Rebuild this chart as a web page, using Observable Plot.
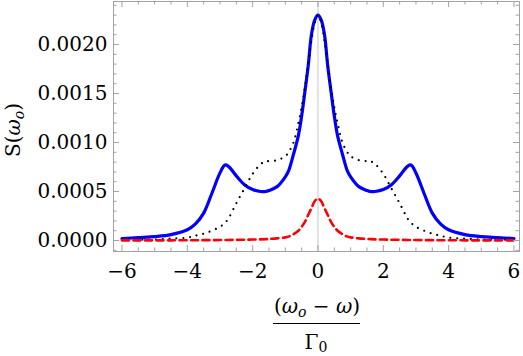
<!DOCTYPE html>
<html>
<head>
<meta charset="utf-8">
<script src="https://cdn.jsdelivr.net/npm/d3@7"></script>
<script src="https://cdn.jsdelivr.net/npm/@observablehq/plot@0.6"></script>
<style>
  html, body { margin: 0; padding: 0; background: #fff; }
  #chart svg { display: block; }
</style>
</head>
<body>
<div id="chart"></div>
<script>
// detuning (ω_o − ω)/Γ0
const xs = [-6, -5.5, -5, -4.5, -4, -3.75, -3.5, -3.25, -3, -2.85, -2.75, -2.5, -2.25, -2, -1.75, -1.6, -1.5, -1.25, -1, -0.9, -0.75, -0.6, -0.5, -0.4, -0.3, -0.2, -0.1,
  0,
  0.1, 0.2, 0.3, 0.4, 0.5, 0.6, 0.75, 0.9, 1, 1.25, 1.5, 1.6, 1.75, 2, 2.25, 2.5, 2.75, 2.85, 3, 3.25, 3.5, 3.75, 4, 4.5, 5, 5.5, 6];

// solid blue curve
const blueS = [0.00002, 0.00003, 0.00004, 0.00006, 0.00011, 0.00017, 0.00028, 0.00048, 0.00069, 0.00077, 0.00076, 0.00066, 0.00057, 0.00052, 0.00050, 0.00050, 0.00051, 0.00055, 0.00065, 0.00071, 0.00088, 0.00107, 0.00127, 0.00152, 0.00178, 0.00210, 0.00225,
  0.00230,
  0.00225, 0.00210, 0.00178, 0.00152, 0.00127, 0.00107, 0.00088, 0.00071, 0.00065, 0.00055, 0.00051, 0.00050, 0.00050, 0.00052, 0.00057, 0.00066, 0.00076, 0.00077, 0.00069, 0.00048, 0.00028, 0.00017, 0.00011, 0.00006, 0.00004, 0.00003, 0.00002];

// dotted black curve
const dottedS = [0.00001, 0.00001, 0.00001, 0.00002, 0.00003, 0.00005, 0.00007, 0.00010, 0.00014, 0.00018, 0.00022, 0.00038, 0.00053, 0.00068, 0.00078, 0.00081, 0.00081, 0.00082, 0.00086, 0.00090, 0.00100, 0.00120, 0.00136, 0.00156, 0.00180, 0.00204, 0.00222,
  0.00230,
  0.00222, 0.00204, 0.00180, 0.00156, 0.00136, 0.00120, 0.00100, 0.00090, 0.00086, 0.00082, 0.00081, 0.00081, 0.00078, 0.00068, 0.00053, 0.00038, 0.00022, 0.00018, 0.00014, 0.00010, 0.00007, 0.00005, 0.00003, 0.00002, 0.00001, 0.00001, 0.00001];

// dashed red curve
const redS = [0.000002, 0.000002, 0.000002, 0.000002, 0.000003, 0.000003, 0.000004, 0.000004, 0.000005, 0.000005, 0.000006, 0.000007, 0.000008, 0.00001, 0.000012, 0.000014, 0.000016, 0.000022, 0.000032, 0.00004, 0.000065, 0.0001, 0.00014, 0.00019, 0.00026, 0.00033, 0.0004,
  0.00043,
  0.0004, 0.00033, 0.00026, 0.00019, 0.00014, 0.0001, 0.000065, 0.00004, 0.000032, 0.000022, 0.000016, 0.000014, 0.000012, 0.00001, 0.000008, 0.000007, 0.000006, 0.000005, 0.000005, 0.000004, 0.000004, 0.000003, 0.000003, 0.000002, 0.000002, 0.000002, 0.000002];

// tick values
const xMajor = [-6, -4, -2, 0, 2, 4, 6];
const xMinor = [-5.5, -5, -4.5, -3.5, -3, -2.5, -1.5, -1, -0.5, 0.5, 1, 1.5, 2.5, 3, 3.5, 4.5, 5, 5.5];
const yMajor = [0, 0.0005, 0.0010, 0.0015, 0.0020];
const yMinor = [-0.0001, 0.0001, 0.0002, 0.0003, 0.0004, 0.0006, 0.0007, 0.0008, 0.0009, 0.0011, 0.0012, 0.0013, 0.0014, 0.0016, 0.0017, 0.0018, 0.0019, 0.0021, 0.0022, 0.0023, 0.0024];

const blueData = xs.map((x, i) => ({x, y: blueS[i]}));
const dottedData = xs.map((x, i) => ({x, y: dottedS[i]}));
const redData = xs.map((x, i) => ({x, y: redS[i]}));

const W = 523, H = 356;
const mL = 113, mR = 4, mT = 1, mB = 105;
const fw = W - mL - mR, fh = H - mT - mB;
const frameCol = "#a2a2a2";
const serif = "DejaVu Serif";

const plot = Plot.plot({
  width: W, height: H,
  marginLeft: mL, marginRight: mR, marginTop: mT, marginBottom: mB,
  style: {fontFamily: serif, fontSize: "20px", color: "black", background: "white"},
  x: {domain: [-6.26, 6.17]},
  y: {domain: [-0.000112, 0.002439]},
  marks: [
    Plot.ruleX([0], {stroke: "#c8c8c8", strokeWidth: 1}),
    Plot.line(blueData, {x: "x", y: "y", stroke: "#0000ff", strokeWidth: 3.2, curve: "catmull-rom"}),
    Plot.line(dottedData, {x: "x", y: "y", stroke: "black", strokeWidth: 2.2, strokeDasharray: "0 6.8", strokeLinecap: "round", curve: "catmull-rom"}),
    Plot.line(redData, {x: "x", y: "y", stroke: "#ff0000", strokeWidth: 2.6, strokeDasharray: "7 4.5", curve: "catmull-rom"}),
    // ticks, inward on all four sides
    Plot.tickX(xMajor, {x: d => d, stroke: frameCol, insetTop: fh - 6}),
    Plot.tickX(xMinor, {x: d => d, stroke: frameCol, insetTop: fh - 3.5}),
    Plot.tickX(xMajor, {x: d => d, stroke: frameCol, insetBottom: fh - 6}),
    Plot.tickX(xMinor, {x: d => d, stroke: frameCol, insetBottom: fh - 3.5}),
    Plot.tickY(yMajor, {y: d => d, stroke: frameCol, insetRight: fw - 6}),
    Plot.tickY(yMinor, {y: d => d, stroke: frameCol, insetRight: fw - 3.5}),
    Plot.tickY(yMajor, {y: d => d, stroke: frameCol, insetLeft: fw - 6}),
    Plot.tickY(yMinor, {y: d => d, stroke: frameCol, insetLeft: fw - 3.5}),
    Plot.frame({stroke: frameCol}),
    Plot.axisX({ticks: xMajor, tickSize: 0, tickPadding: 12, fontSize: 20, label: null, fill: "black", fontFamily: serif}),
    Plot.axisY({ticks: yMajor, tickSize: 0, tickPadding: 6, fontSize: 20, label: null, fill: "black", fontFamily: serif, tickFormat: d3.format(".4f")})
  ]
});

const svg = d3.select(plot);
// y-axis label S(ω_o)
const yl = svg.append("text")
  .attr("transform", "translate(20,130) rotate(-90)")
  .attr("text-anchor", "middle")
  .attr("font-family", serif).attr("font-size", 20).attr("fill", "black");
yl.append("tspan").text("S(");
yl.append("tspan").attr("font-style", "italic").text("ω");
yl.append("tspan").attr("font-style", "italic").attr("font-size", 14).attr("dy", 4).text("o");
yl.append("tspan").attr("dy", -4).text(")");

// x-axis label: (ω_o − ω) / Γ0
const num = svg.append("text")
  .attr("x", 317).attr("y", 313)
  .attr("text-anchor", "middle")
  .attr("font-family", serif).attr("font-size", 20).attr("fill", "black");
num.append("tspan").text("(");
num.append("tspan").attr("font-style", "italic").text("ω");
num.append("tspan").attr("font-style", "italic").attr("font-size", 14).attr("dy", 4).text("o");
num.append("tspan").attr("dy", -4).text(" − ");
num.append("tspan").attr("font-style", "italic").text("ω");
num.append("tspan").text(")");

svg.append("line")
  .attr("x1", 273).attr("x2", 360).attr("y1", 323.5).attr("y2", 323.5)
  .attr("stroke", "black").attr("stroke-width", 1);

const den = svg.append("text")
  .attr("x", 316).attr("y", 349)
  .attr("text-anchor", "middle")
  .attr("font-family", serif).attr("font-size", 20).attr("fill", "black");
den.append("tspan").text("Γ");
den.append("tspan").attr("font-size", 14).attr("dy", 3).text("0");

document.getElementById("chart").appendChild(plot);
</script>
</body>
</html>
